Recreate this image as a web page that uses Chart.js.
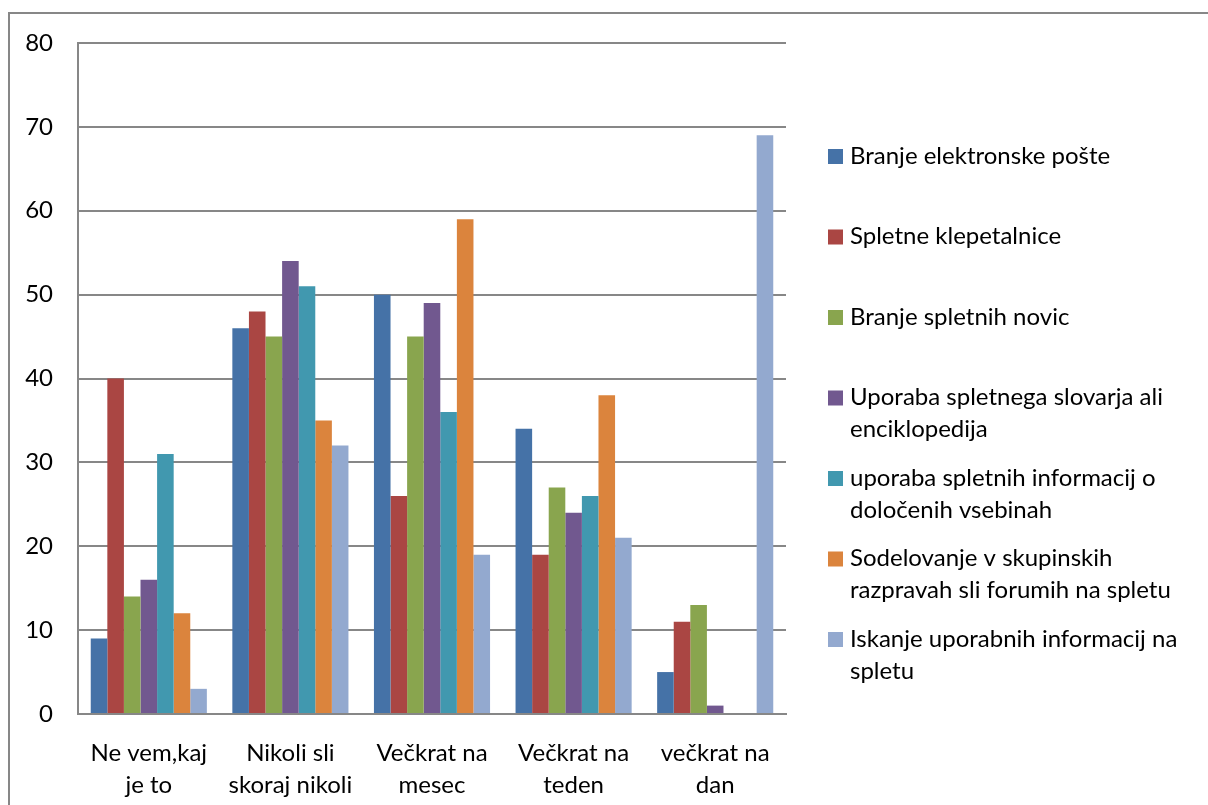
<!DOCTYPE html>
<html>
<head>
<meta charset="utf-8">
<script src="https://cdn.jsdelivr.net/npm/chart.js@4/dist/chart.umd.min.js"></script>
<style>
html,body{margin:0;padding:0;background:#fff;width:1208px;height:805px;overflow:hidden;}
#frame{position:absolute;left:8px;top:12px;width:1300px;height:900px;border:2px solid #878787;box-sizing:border-box;}
#wrap{position:absolute;left:0;top:0;width:1208px;height:805px;}
</style>
</head>
<body>
<div id="frame"></div>
<div id="wrap"><canvas id="c" width="1208" height="805"></canvas></div>
<script>
const categories = [['Ne vem,kaj','je to'],['Nikoli sli','skoraj nikoli'],['Večkrat na','mesec'],['Večkrat na','teden'],['večkrat na','dan']];
const seriesNames = [
  ['Branje elektronske pošte'],
  ['Spletne klepetalnice'],
  ['Branje spletnih novic'],
  ['Uporaba spletnega slovarja ali','enciklopedija'],
  ['uporaba spletnih informacij o','določenih vsebinah'],
  ['Sodelovanje v skupinskih','razpravah sli forumih na spletu'],
  ['Iskanje uporabnih informacij na','spletu']
];
const seriesColors = ['#4572A7','#AA4643','#89A54E','#71588F','#4198AF','#DB843D','#93A9CF'];
const branjePoste = [9, 46, 50, 34, 5];
const klepetalnice = [40, 48, 26, 19, 11];
const novice = [14, 45, 45, 27, 13];
const slovar = [16, 54, 49, 24, 1];
const informacije = [31, 51, 36, 26, 0];
const forumi = [12, 35, 59, 38, 0];
const iskanje = [3, 32, 19, 21, 69];
const yTicks = [0,10,20,30,40,50,60,70,80];

const seriesData = [branjePoste, klepetalnice, novice, slovar, informacije, forumi, iskanje];
const FONT = 'Lato, "Open Sans", sans-serif';

const legendPlugin = {
  id: 'sideLegend',
  afterDraw(chart) {
    const ctx = chart.ctx;
    ctx.save();
    ctx.font = '24px ' + FONT;
    ctx.textBaseline = 'middle';
    ctx.fillStyle = '#000';
    const x0 = 828, tx = 850, y0 = 156, step = 80.5, lh = 32;
    chart.data.datasets.forEach((ds, i) => {
      const y = y0 + i * step;
      ctx.fillStyle = ds.backgroundColor;
      ctx.fillRect(x0, y - 7, 15, 15);
      ctx.fillStyle = '#000';
      ds.labelLines.forEach((t, j) => ctx.fillText(t, tx, y + j * lh));
    });
    ctx.restore();
  }
};

new Chart(document.getElementById('c'), {
  type: 'bar',
  data: {
    labels: categories,
    datasets: seriesData.map((d, i) => ({
      label: seriesNames[i].join(' '),
      labelLines: seriesNames[i],
      data: d,
      backgroundColor: seriesColors[i],
      borderWidth: 0,
      categoryPercentage: 0.82,
      barPercentage: 1.0
    }))
  },
  options: {
    responsive: false,
    animation: false,
    devicePixelRatio: 1,
    layout: { padding: { left: 0, right: 422, top: 43, bottom: 0 } },
    plugins: { legend: { display: false }, tooltip: { enabled: false } },
    scales: {
      x: {
        grid: { display: false },
        border: { display: true, color: '#878787', width: 2 },
        ticks: { color: '#000', font: { family: FONT, size: 24, lineHeight: 1.33 }, padding: 15, maxRotation: 0, autoSkip: false },
        afterFit(s) { s.height = 91; }
      },
      y: {
        min: 0, max: 80,
        afterBuildTicks(s) { s.ticks = yTicks.map(v => ({ value: v })); },
        grid: { color: '#878787', lineWidth: 2, drawTicks: false },
        border: { display: true, color: '#878787', width: 2 },
        ticks: { color: '#000', font: { family: FONT, size: 24 }, padding: 25 },
        afterFit(s) { s.width = 78; }
      }
    }
  },
  plugins: [legendPlugin]
});
</script>
</body>
</html>
